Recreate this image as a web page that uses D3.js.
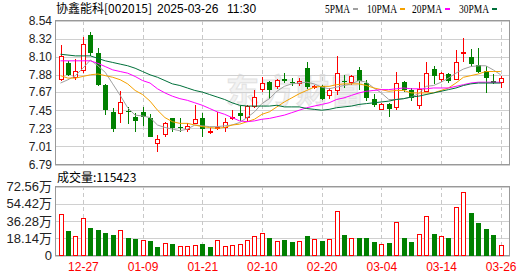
<!DOCTYPE html>
<html lang="zh">
<head>
<meta charset="utf-8">
<title>协鑫能科 日K</title>
<script src="https://cdn.jsdelivr.net/npm/d3@7/dist/d3.min.js"></script>
<style>
body { margin: 0; background: #fff; }
text { font-family: "Liberation Sans", Arial, "Noto Sans CJK SC", sans-serif; font-size: 12px; }
.cn { font-family: "Noto Sans CJK SC", sans-serif; }
</style>
</head>
<body>
<script>

// trading days shown (12-24 .. 03-26)
var dates = ["12-24","12-25","12-26","12-27","12-30","12-31","01-02","01-03","01-06","01-07",
             "01-08","01-09","01-10","01-13","01-14","01-15","01-16","01-17","01-20","01-21",
             "01-22","01-23","01-24","01-27","02-05","02-06","02-07","02-10","02-11","02-12",
             "02-13","02-14","02-17","02-18","02-19","02-20","02-21","02-24","02-25","02-26",
             "02-27","02-28","03-03","03-04","03-05","03-06","03-07","03-10","03-11","03-12",
             "03-13","03-14","03-17","03-18","03-19","03-20","03-21","03-24","03-25","03-26"];

var open  = [7.83,8.02,7.85,7.94,8.36,8.15,7.76,7.43,7.41,7.44, 7.37,7.43,7.36,7.05,7.16,7.35,7.25,7.22,7.29,7.36,
             7.19,7.23,7.25,7.35,7.41,7.37,7.50,7.71,7.79,7.75, 7.83,7.79,7.78,7.96,7.73,7.75,7.64,7.69,7.81,7.79,
             7.94,7.78,7.58,7.46,7.53,7.49,7.79,7.69,7.51,7.68, 7.95,7.83,7.89,7.83,8.14,8.10,8.00,7.93,7.81,7.79];
var high  = [8.24,8.05,8.07,8.34,8.40,8.21,7.77,7.48,7.68,7.49, 7.42,7.49,7.40,7.15,7.31,7.36,7.36,7.29,7.51,7.41,
             7.23,7.43,7.36,7.45,7.50,7.51,7.70,7.85,7.81,7.83, 7.90,7.84,7.84,8.03,7.76,7.76,7.72,8.11,7.88,7.88,
             7.97,7.82,7.65,7.54,7.54,7.91,7.81,7.72,7.79,8.04, 7.99,7.91,7.90,8.18,8.33,8.19,8.21,7.99,7.89,7.87];
var low   = [7.81,7.86,7.82,7.90,8.11,7.75,7.39,7.18,7.30,7.28, 7.18,7.26,7.12,6.94,7.12,7.19,7.19,7.18,7.28,7.13,
             7.16,7.21,7.19,7.33,7.32,7.31,7.48,7.67,7.59,7.71, 7.78,7.74,7.75,7.71,7.71,7.57,7.58,7.64,7.72,7.76,
             7.70,7.56,7.49,7.45,7.37,7.45,7.67,7.56,7.47,7.67, 7.77,7.79,7.78,7.82,8.03,7.98,7.90,7.66,7.77,7.72];
var close = [8.11,7.88,7.93,8.25,8.15,7.76,7.45,7.22,7.55,7.43, 7.32,7.37,7.13,7.10,7.29,7.23,7.24,7.26,7.34,7.22,
             7.20,7.25,7.31,7.37,7.38,7.50,7.61,7.78,7.69,7.82, 7.80,7.78,7.80,7.73,7.75,7.59,7.69,7.90,7.80,7.86,
             7.81,7.60,7.51,7.52,7.47,7.78,7.69,7.60,7.71,7.90, 7.86,7.90,7.81,8.04,8.16,8.01,7.92,7.84,7.78,7.84];

// volume in 万 shares
var volume = [44.0,25.4,20.9,39.8,28.6,26.5,23.3,21.3,27.2,18.1, 17.1,16.0,15.0,9.0,13.6,12.6,10.5,9.7,11.5,11.8,
              8.7,16.7,10.5,11.5,12.6,16.7,20.9,24.1,18.4,15.0, 16.3,13.9,15.0,20.2,17.1,15.0,17.1,46.4,21.3,18.1,
              18.1,18.1,13.9,11.8,12.9,34.9,18.1,13.9,23.0,41.9, 22.3,20.9,18.1,51.3,67.0,44.3,33.8,27.5,21.3,11.5423];

// moving averages as drawn on the chart
var ma5  = [7.78,7.82,7.87,7.96,8.06,7.99,7.91,7.77,7.63,7.48, 7.39,7.38,7.36,7.27,7.24,7.22,7.20,7.22,7.27,7.26,
            7.25,7.25,7.26,7.27,7.30,7.36,7.43,7.53,7.59,7.68, 7.74,7.77,7.78,7.79,7.77,7.73,7.71,7.73,7.75,7.77,
            7.81,7.79,7.72,7.66,7.58,7.58,7.59,7.61,7.65,7.74, 7.75,7.79,7.84,7.90,7.95,7.98,7.99,7.99,7.94,7.88];
var ma10 = [7.87,7.84,7.84,7.86,7.88,7.89,7.87,7.85,7.82,7.77, 7.69,7.64,7.56,7.45,7.36,7.31,7.29,7.29,7.27,7.25,
            7.24,7.23,7.24,7.27,7.28,7.31,7.34,7.40,7.43,7.49, 7.55,7.60,7.65,7.69,7.73,7.74,7.74,7.76,7.77,7.77,
            7.77,7.75,7.72,7.70,7.68,7.69,7.69,7.66,7.66,7.66, 7.66,7.69,7.72,7.78,7.85,7.87,7.89,7.92,7.92,7.92];
var ma20 = [8.05,8.05,8.05,8.05,8.05,8.02,7.98,7.94,7.92,7.90, 7.86,7.81,7.78,7.71,7.66,7.62,7.59,7.57,7.54,7.51,
            7.47,7.43,7.40,7.36,7.32,7.31,7.32,7.34,7.35,7.37, 7.39,7.42,7.45,7.48,7.50,7.52,7.54,7.58,7.60,7.63,
            7.66,7.68,7.69,7.70,7.70,7.71,7.72,7.71,7.71,7.71, 7.72,7.72,7.72,7.74,7.76,7.78,7.79,7.79,7.79,7.79];
var ma30 = [8.13,8.12,8.11,8.11,8.11,8.08,8.05,8.03,8.01,7.99, 7.96,7.92,7.88,7.85,7.81,7.77,7.75,7.72,7.69,7.67,
            7.64,7.61,7.58,7.54,7.51,7.50,7.50,7.50,7.50,7.51, 7.49,7.49,7.49,7.47,7.46,7.45,7.46,7.48,7.49,7.50,
            7.52,7.53,7.54,7.55,7.56,7.58,7.59,7.61,7.62,7.64, 7.66,7.68,7.70,7.72,7.75,7.77,7.78,7.78,7.78,7.78];

var priceTicks = [8.54, 8.32, 8.10, 7.88, 7.67, 7.45, 7.23, 7.01, 6.79];
var volTicks = [0, 18.14, 36.28, 54.42, 72.56];
var dateTicks = ["12-27","01-09","01-21","02-10","02-20","03-04","03-14","03-26"];

var maNames = ["5PMA", "10PMA", "20PMA", "30PMA"];
var maColors = ["#a0a0a0", "#f5a100", "#ff00ff", "#00703a"];

var red = "#ff0000", green = "#008000";

//Create svg

var svg = d3.select("body")
            .append("svg")
            .attr("width", 530)
            .attr("height", 276);

var left = 55, right = 510;
var pTop = 21, pBot = 165;
var vTop = 186, vBot = 255;

var x = d3.scalePoint().domain(dates).range([60.5, 500.7]);
var yp = d3.scaleLinear().domain([6.79, 8.54]).range([pBot - 0.5, pTop - 0.5]);
var yv = d3.scaleLinear().domain([0, 72.56]).range([vBot + 0.5, vTop + 0.5]);

function px(d) { return Math.round(x(d)); }

//watermark

svg.append("text")
   .attr("class", "cn")
   .attr("x", 226)
   .attr("y", 103)
   .style("font-size", "33px")
   .style("font-weight", "bold")
   .style("fill", "#f2f2f2")
   .style("stroke", "#e2e2e2")
   .style("stroke-width", 1)
   .style("letter-spacing", "2px")
   .text("东方财富");

//gridlines

svg.append("g").selectAll("line")
   .data(priceTicks)
   .enter().append("line")
   .attr("x1", left).attr("x2", right)
   .attr("y1", d => Math.round(yp(d)) + 0.5)
   .attr("y2", d => Math.round(yp(d)) + 0.5)
   .style("stroke", "#d0d0d0");

svg.append("g").selectAll("line")
   .data(volTicks)
   .enter().append("line")
   .attr("x1", left).attr("x2", right)
   .attr("y1", d => Math.round(yv(d)) + 0.5)
   .attr("y2", d => Math.round(yv(d)) + 0.5)
   .style("stroke", "#d0d0d0");

[[pTop, pBot], [vTop, vBot]].forEach(function(r) {
  svg.append("g").selectAll("line")
     .data(dateTicks)
     .enter().append("line")
     .attr("x1", d => px(d) + 0.5).attr("x2", d => px(d) + 0.5)
     .attr("y1", r[0]).attr("y2", r[1])
     .style("stroke", "#c8c8c8")
     .style("stroke-dasharray", "4,3");
});

//frames

svg.append("rect")
   .attr("x", left + 0.5).attr("y", pTop - 0.5)
   .attr("width", right - left - 1).attr("height", pBot - pTop)
   .style("fill", "none").style("stroke", "#999");

svg.append("rect")
   .attr("x", left + 0.5).attr("y", vTop + 0.5)
   .attr("width", right - left - 1).attr("height", vBot - vTop)
   .style("fill", "none").style("stroke", "#999");

//candles

var days = dates.map(function(d, i) {
  return {date: d, o: open[i], h: high[i], l: low[i], c: close[i], v: volume[i],
          volUp: i == 0 ? close[i] >= open[i] : close[i] >= close[i - 1]};
});

var candle = svg.append("g").selectAll("g")
   .data(days)
   .enter().append("g");

candle.append("line")
   .attr("x1", d => px(d.date) + 0.5).attr("x2", d => px(d.date) + 0.5)
   .attr("y1", d => Math.round(yp(d.h)))
   .attr("y2", d => Math.round(yp(d.l)))
   .style("stroke", d => d.c >= d.o ? red : green);

candle.append("rect")
   .attr("x", d => d.c >= d.o ? px(d.date) - 1.5 : px(d.date) - 2)
   .attr("y", function(d) {
     var t = Math.round(yp(Math.max(d.o, d.c)));
     return d.c >= d.o ? t + 0.5 : t;
   })
   .attr("width", d => d.c >= d.o ? 4 : 5)
   .attr("height", function(d) {
     var h = Math.round(yp(Math.min(d.o, d.c))) - Math.round(yp(Math.max(d.o, d.c)));
     return Math.max(h, 1);
   })
   .style("fill", d => d.c >= d.o ? "#fff" : green)
   .style("stroke", d => d.c >= d.o ? red : "none");

//moving average lines

var line = d3.line()
             .x((v, i) => x(dates[i]))
             .y(v => yp(v));

[ma5, ma10, ma20, ma30].forEach(function(ma, k) {
  svg.append("path")
     .datum(ma)
     .attr("d", line)
     .style("fill", "none")
     .style("stroke", maColors[k])
     .style("stroke-width", 1);
});

//volume bars

svg.append("g").selectAll("rect")
   .data(days)
   .enter().append("rect")
   .attr("x", d => d.volUp ? px(d.date) - 1.5 : px(d.date) - 2)
   .attr("y", d => d.volUp ? Math.round(yv(d.v)) + 0.5 : Math.round(yv(d.v)))
   .attr("width", d => d.volUp ? 4 : 5)
   .attr("height", d => d.volUp ? vBot - Math.round(yv(d.v)) : vBot + 1 - Math.round(yv(d.v)))
   .style("fill", d => d.volUp ? "#fff" : green)
   .style("stroke", d => d.volUp ? red : "none");

//axes

var pAxis = svg.append("g")
   .attr("transform", "translate(" + left + ",0)")
   .call(d3.axisLeft(yp).tickValues(priceTicks).tickSize(0).tickPadding(3)
           .tickFormat(d3.format(".2f")));

var vAxis = svg.append("g")
   .attr("transform", "translate(" + left + ",0)")
   .call(d3.axisLeft(yv).tickValues(volTicks).tickSize(0).tickPadding(3)
           .tickFormat(d => d == 0 ? "0" : d3.format(".2f")(d) + "万"));

var xAxis = svg.append("g")
   .attr("transform", "translate(0," + (vBot + 1) + ")")
   .call(d3.axisBottom(x).tickValues(dateTicks).tickSize(0).tickPadding(6));

[pAxis, vAxis, xAxis].forEach(function(a) {
  a.select(".domain").remove();
  a.selectAll("text").style("font-family", null).style("font-size", null);
});
pAxis.selectAll("text").style("fill", "#222");
vAxis.selectAll("text").style("fill", "#222").style("font-size", "13px");
xAxis.selectAll("text").style("fill", red);

//title and legend

svg.append("text").attr("class", "cn").attr("x", 56).attr("y", 13).text("协鑫能科[002015]");
svg.append("text").attr("x", 157).attr("y", 13).text("2025-03-26");
svg.append("text").attr("x", 227).attr("y", 13).text("11:30");

var legX = [325, 367, 412, 459];
var legW = [25, 30, 30, 30];
var legend = svg.append("g").selectAll("g")
   .data(maNames)
   .enter().append("g");

legend.append("text")
   .attr("x", (d, i) => legX[i])
   .attr("y", 13)
   .attr("textLength", (d, i) => legW[i])
   .attr("lengthAdjust", "spacingAndGlyphs")
   .style("font-family", "'Liberation Serif', serif")
   .style("font-size", "13px")
   .text(d => d);

legend.append("rect")
   .attr("x", (d, i) => legX[i] + legW[i] + 3)
   .attr("y", 8)
   .attr("width", 5)
   .attr("height", 2)
   .style("fill", (d, i) => maColors[i]);

svg.append("text").attr("class", "cn").attr("x", 57).attr("y", 182)
   .text("成交量:" + Math.round(volume[volume.length - 1] * 10000));

</script>
</body>
</html>
